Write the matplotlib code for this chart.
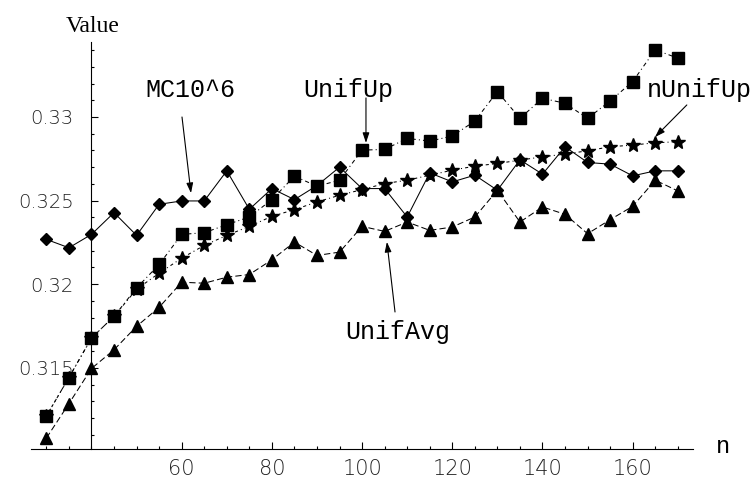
import matplotlib
matplotlib.use("Agg")
import matplotlib.pyplot as plt
from matplotlib.ticker import MultipleLocator, FixedLocator

n = [30, 35, 40, 45, 50, 55, 60, 65, 70, 75, 80, 85, 90, 95, 100,
     105, 110, 115, 120, 125, 130, 135, 140, 145, 150, 155, 160, 165, 170]

mc = [0.32268, 0.32218, 0.32298, 0.32428, 0.32292, 0.32478, 0.32498, 0.32498,
      0.32678, 0.32448, 0.32572, 0.32506, 0.32590, 0.32700, 0.32572,
      0.32572, 0.32402, 0.32666, 0.32612, 0.32652, 0.32562, 0.32744,
      0.32658, 0.32822, 0.32728, 0.32718, 0.32648, 0.32678, 0.32678]

unif_up = [0.31212, 0.31442, 0.31678, 0.31808, 0.31978, 0.32118, 0.32298, 0.32308,
           0.32356, 0.32402, 0.32506, 0.32646, 0.32586, 0.32622, 0.32802,
           0.32806, 0.32872, 0.32856, 0.32886, 0.32976, 0.33152, 0.32992,
           0.33112, 0.33082, 0.32992, 0.33096, 0.33212, 0.33402, 0.33352]

nunif_up = [0.31212, 0.31442, 0.31678, 0.31808, 0.31970, 0.32066, 0.32156, 0.32232,
            0.32292, 0.32346, 0.32406, 0.32446, 0.32492, 0.32532, 0.32566,
            0.32602, 0.32622, 0.32652, 0.32682, 0.32706, 0.32722, 0.32742,
            0.32762, 0.32778, 0.32798, 0.32822, 0.32832, 0.32846, 0.32852]

unif_avg = [0.31080, 0.31286, 0.31496, 0.31608, 0.31748, 0.31862, 0.32012, 0.32006,
            0.32042, 0.32058, 0.32146, 0.32252, 0.32172, 0.32192, 0.32346,
            0.32316, 0.32372, 0.32322, 0.32342, 0.32402, 0.32562, 0.32372,
            0.32462, 0.32418, 0.32302, 0.32386, 0.32466, 0.32622, 0.32558]

x_major = [60, 80, 100, 120, 140, 160]
y_major = [0.315, 0.32, 0.325, 0.33]
y_labels = ["0.315", "0.32", "0.325", "0.33"]

W, H = 755, 479
fig = plt.figure(figsize=(W / 100, H / 100), dpi=100)
ax = fig.add_axes([31 / W, (H - 449) / H, 662 / W, (449 - 42) / H])
ax.set_xlim(26.59, 173.37)
ax.set_ylim(0.310146, 0.334485)

lw = 0.75
ax.plot(n, mc, color="black", lw=lw, marker="D", ms=6.5, clip_on=False, zorder=3)
ax.plot(n, unif_avg, color="black", lw=lw, marker="^", ms=8, dashes=(6, 3),
        clip_on=False, zorder=3)
ax.plot(n, nunif_up, color="black", lw=lw, marker="*", ms=10, dashes=(3, 3, 1, 3),
        clip_on=False, zorder=4)
ax.plot(n, unif_up, color="black", lw=lw, marker="s", ms=9, dashes=(1, 3, 4, 3),
        clip_on=False, zorder=5)

for s in ["top", "right"]:
    ax.spines[s].set_visible(False)
ax.spines["left"].set_position(("data", 40))
for s in ["left", "bottom"]:
    ax.spines[s].set_linewidth(0.8)

ax.xaxis.set_major_locator(FixedLocator(x_major))
ax.xaxis.set_minor_locator(MultipleLocator(5))
ax.yaxis.set_major_locator(FixedLocator(y_major))
ax.set_yticklabels(y_labels)
ax.yaxis.set_minor_locator(MultipleLocator(0.001))
ax.tick_params(axis="both", which="major", direction="in", length=5, width=0.8)
ax.tick_params(axis="both", which="minor", direction="in", length=2.5, width=0.8)
ax.tick_params(axis="x", which="major", pad=7)
ax.tick_params(axis="y", which="major", pad=13)
for lab in ax.get_xticklabels():
    lab.set_fontfamily("DejaVu Sans")
    lab.set_fontsize(15)
    lab.set_fontweight("light")
    lab.set_color("#222222")
for lab in ax.get_yticklabels():
    lab.set_fontfamily("DejaVu Sans")
    lab.set_fontsize(14)
    lab.set_fontweight("light")
    lab.set_color("#222222")

mono = dict(family="Liberation Mono", size=18, color="black")
arrow = dict(arrowstyle="-|>,head_length=0.6,head_width=0.2", color="black", lw=0.8,
             shrinkA=0, shrinkB=0)

ax.text(51.86, 0.3312, "MC10^6", ha="left", va="baseline", **mono)
ax.annotate("", xy=(62.06, 0.32545), xytext=(60.07, 0.3300), arrowprops=arrow)

ax.text(86.9, 0.3312, "UnifUp", ha="left", va="baseline", **mono)
ax.annotate("", xy=(100.86, 0.32845), xytext=(100.86, 0.33114), arrowprops=arrow)

ax.text(163.2, 0.3312, "nUnifUp", ha="left", va="baseline", clip_on=False, **mono)
ax.annotate("", xy=(164.95, 0.3288), xytext=(172.0, 0.33072), arrowprops=arrow,
            annotation_clip=False)

ax.text(96.2, 0.31672, "UnifAvg", ha="left", va="baseline", **mono)
ax.annotate("", xy=(105.5, 0.32253), xytext=(107.3, 0.31834), arrowprops=arrow)

fig.text(93 / W, 1 - 32 / H, "Value", ha="center", va="baseline",
         family="Liberation Serif", size=17)
fig.text(716 / W, 1 - 453 / H, "n", ha="left", va="baseline",
         family="Liberation Mono", size=17)

fig.savefig("out.png", dpi=100)
